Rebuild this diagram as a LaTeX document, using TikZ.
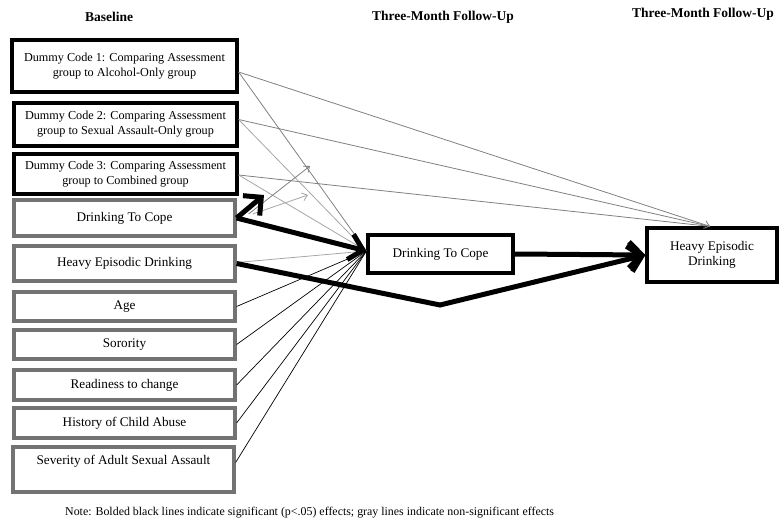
\documentclass[tikz,border=0pt]{standalone}
\usepackage{fontspec}
\setmainfont{Liberation Serif}
\usetikzlibrary{arrows.meta,calc}
\begin{document}
\begin{tikzpicture}[x=1pt,y=-1pt,
  boxtext/.style={font=\fontsize{13.2}{15.5}\selectfont,align=center,inner sep=0pt},
  dctext/.style={font=\fontsize{12.2}{15}\selectfont},
  blackbox/.style={boxtext,draw=black,line width=3.2pt,minimum width=#1},
  graybox/.style={boxtext,draw=black!55,line width=3.2pt,minimum width=221pt},
  head/.style={font=\fontsize{13.5}{16}\selectfont\bfseries},
  grayline/.style={draw=black!50,line width=0.8pt},
  lightline/.style={draw=black!35,line width=0.8pt},
  thinblack/.style={draw=black,line width=0.7pt},
  smalltip/.style={-{Straight Barb[length=5pt,width=8pt]}},
  thick path/.style={draw=black,line width=5pt},
  bigtip/.style={-{Straight Barb[length=13pt,width=26pt,line width=5pt]}}
]
\useasboundingbox (0,0) rectangle (783,529);
% headers
\node[head] (h1) at (109,17) {Baseline};
\node[head] (h2) at (443,17) {Three-Month Follow-Up};
\node[head] (h3) at (703,14) {Three-Month Follow-Up};
% left column
\node[blackbox=225pt,dctext,minimum height=52pt] (dc1) at (124.5,66) {Dummy Code 1: Comparing Assessment\\group to Alcohol-Only group};
\node[blackbox=223pt,dctext,minimum height=43pt] (dc2) at (125.5,124.5) {Dummy Code 2: Comparing Assessment\\group to Sexual Assault-Only group};
\node[blackbox=223pt,dctext,minimum height=40pt] (dc3) at (125.5,174) {Dummy Code 3: Comparing Assessment\\group to Combined group};
\node[graybox,minimum height=36pt] (dtc) at (124.5,218) {Drinking To Cope};
\node[graybox,minimum height=35pt] (hed) at (124.5,263.5) {Heavy Episodic Drinking};
\node[graybox,minimum height=29pt] (age) at (124.5,306.5) {Age};
\node[graybox,minimum height=29pt] (sor) at (124.5,344.5) {Sorority};
\node[graybox,minimum height=30pt] (rdy) at (124.5,385) {Readiness to change};
\node[graybox,minimum height=30pt] (hca) at (124.5,423) {History of Child Abuse};
\node[graybox,minimum height=45pt] (sev) at (123.5,469.5) {Severity of Adult Sexual Assault\\\strut};
% outcome boxes
\node[blackbox=145pt,minimum height=38pt] (mid) at (440.5,254) {Drinking To Cope};
\node[blackbox=130pt,minimum height=54pt] (out) at (712,255) {Heavy Episodic\\Drinking};
% anchor points
\coordinate (conv) at ($(mid.west)+(0,-3)$);
\coordinate (top) at ($(out.north)+(-2,0)$);
\coordinate (d1) at ($(dc1.east)+(0,6)$);
\coordinate (d2) at ($(dc2.east)+(0,-5)$);
\coordinate (d3) at ($(dc3.east)+(0,1)$);
\coordinate (g1) at (310,166);
\coordinate (g2) at (308,195);
\coordinate (t1) at (264,195);
\coordinate (bend) at (440,305);
\coordinate (sevp) at ($(sev.east)+(0,-7)$);
% gray, non-significant
\draw[grayline,smalltip] (d1) -- (top);
\draw[grayline] (d2) -- (top);
\draw[grayline] (d3) -- (top);
\draw[grayline] (d1) -- (conv);
\draw[lightline] (d2) -- (conv);
\draw[lightline] (d3) -- (conv);
\draw[lightline] ($(hed.east)+(0,-1)$) -- (conv);
\draw[grayline,smalltip] ($(dtc.east)+(12,-4)$) -- (g1);
\draw[lightline,smalltip] ($(dtc.east)+(16,-4)$) -- (g2);
% thin black
\draw[thinblack] (age.east) -- (conv);
\draw[thinblack] (sor.east) -- (conv);
\draw[thinblack] (rdy.east) -- (conv);
\draw[thinblack] (hca.east) -- (conv);
\draw[thinblack] (sevp) -- (conv);
% bold significant
\draw[thick path,bigtip] (dtc.east) -- (t1);
\draw[thick path,bigtip] (dtc.east) -- (conv);
\draw[thick path,bigtip] (mid.east) -- (out.west);
\draw[thick path,bigtip] (hed.east) -- (bend) -- (out.west);
% note
\node[font=\fontsize{11.9}{14}\selectfont,anchor=west,inner sep=0pt] (note) at (65,513) {Note: Bolded black lines indicate significant (p<.05) effects; gray lines indicate non-significant effects};
\end{tikzpicture}
\end{document}
